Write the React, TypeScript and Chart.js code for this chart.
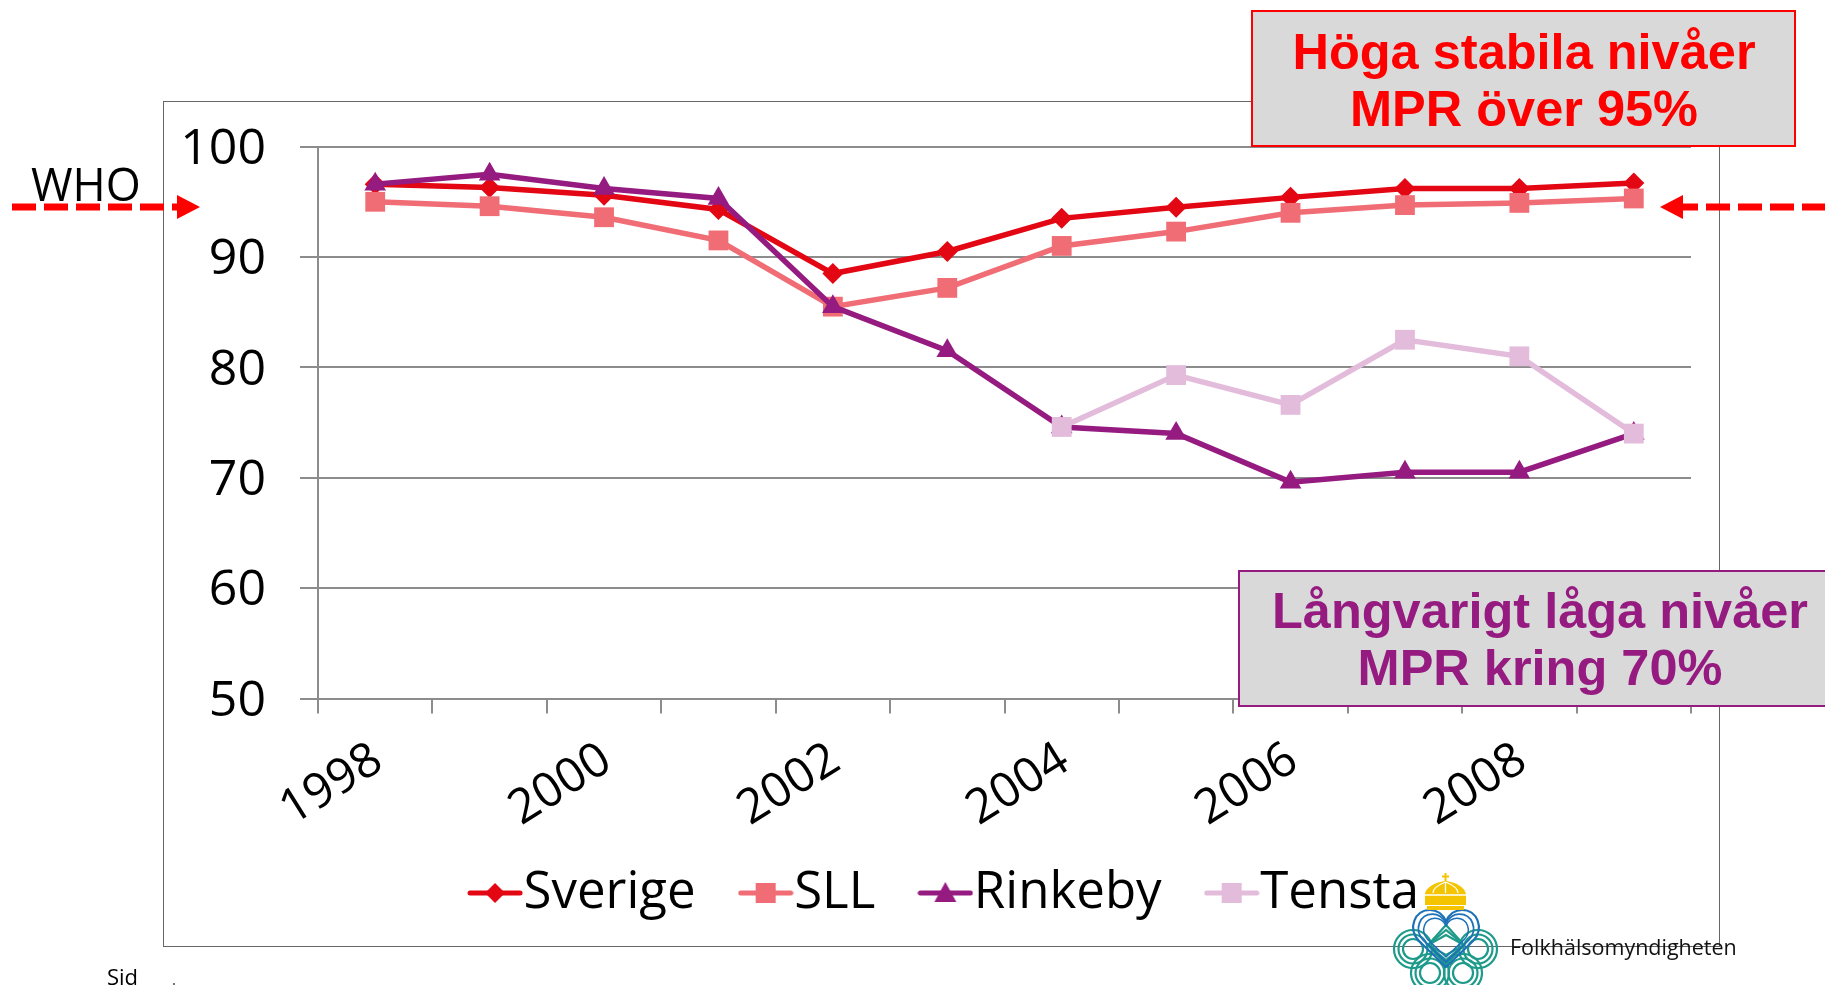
import React, { useEffect, useRef } from "react";
import { Chart, registerables } from "chart.js";
Chart.register(...registerables);

const years = ["1998","1999","2000","2001","2002","2003","2004","2005","2006","2007","2008","2009"];
const yearLabels = ["1998","","2000","","2002","","2004","","2006","","2008",""];
const sverige = [96.6,96.3,95.6,94.3,88.5,90.5,93.5,94.5,95.4,96.2,96.2,96.7];
const sll = [95,94.6,93.6,91.5,85.5,87.2,91,92.3,94,94.7,94.9,95.3];
const rinkeby = [96.6,97.5,96.2,95.3,85.5,81.5,74.6,74,69.6,70.5,70.5,74];
const tensta = [null,null,null,null,null,null,74.6,79.3,76.6,82.5,81,74];
const names = ["Sverige","SLL","Rinkeby","Tensta"];
const colors = ["#E30613","#F06D75","#951B81","#E3BBDB"];
const styles = ["rectRot","rect","triangle","rect"];
const radii = [10.5,14,12.5,14];

const FONT = "'Open Sans', sans-serif";
const GRID = "#8C8C8C";

function legendIcon(color: string, style: string) {
  const c = document.createElement("canvas");
  c.width = 56; c.height = 26;
  const g = c.getContext("2d")!;
  g.strokeStyle = color; g.fillStyle = color; g.lineWidth = 5; g.lineCap = "round";
  g.beginPath(); g.moveTo(3,13); g.lineTo(53,13); g.stroke();
  g.beginPath();
  if (style === "rect") g.rect(18,3,20,20);
  else if (style === "rectRot") { g.moveTo(28,3); g.lineTo(38,13); g.lineTo(28,23); g.lineTo(18,13); g.closePath(); }
  else { g.moveTo(28,2); g.lineTo(39,22); g.lineTo(17,22); g.closePath(); }
  g.fill();
  return c;
}

const legendShift = {
  id: "legendShift",
  afterLayout(chart: any) {
    const l = chart.legend;
    if (l) { l.left += 25; l.right += 25; l.top -= 28; l.bottom -= 28; }
  },
};

export default function App() {
  const ref = useRef<HTMLCanvasElement>(null);
  useEffect(() => {
    const series = [sverige, sll, rinkeby, tensta];
    const chart = new Chart(ref.current!, {
      type: "line",
      plugins: [legendShift],
      data: {
        labels: years,
        datasets: series.map((d, i) => ({
          label: names[i], data: d, borderColor: colors[i], backgroundColor: colors[i],
          borderWidth: 5.5, pointStyle: styles[i] as any, pointRadius: radii[i],
          pointBorderWidth: 0, tension: 0, spanGaps: false, order: 4 - i, clip: false as any,
        })),
      },
      options: {
        animation: false, responsive: false,
        layout: { autoPadding: false, padding: { left: 170, right: 134, top: 146.6, bottom: 28.5 } },
        scales: {
          x: {
            offset: true,
            grid: { offset: true, drawOnChartArea: false, drawTicks: true, tickLength: 15, color: GRID, lineWidth: 2 },
            border: { display: true, color: GRID, width: 2 },
            ticks: {
              autoSkip: false, minRotation: 32, maxRotation: 32, padding: 18, labelOffset: 3, color: "#000",
              font: { family: FONT, size: 48 },
              callback: (_v: any, i: number) => yearLabels[i],
            },
            afterFit: (s: any) => { s.height = 130; },
          },
          y: {
            min: 50, max: 100,
            grid: { color: GRID, lineWidth: 2, tickLength: 18 },
            border: { display: true, color: GRID, width: 2 },
            ticks: { stepSize: 10, padding: 34, labelOffset: 3, color: "#000", font: { family: FONT, size: 50 } },
            afterFit: (s: any) => { s.width = 148; },
          },
        },
        plugins: {
          title: { display: false }, tooltip: { enabled: false },
          legend: {
            display: true, position: "bottom",
            labels: {
              usePointStyle: true, pointStyleWidth: 6, padding: 67, color: "#000",
              font: { family: FONT, size: 51 },
              generateLabels: () => names.map((n, i) => ({
                text: n, fillStyle: colors[i], strokeStyle: colors[i], lineWidth: 0,
                pointStyle: legendIcon(colors[i], styles[i]) as any, datasetIndex: i, hidden: false,
              })),
            },
          },
        },
      },
    });
    return () => chart.destroy();
  }, []);

  const red = "#FF0000"; const purple = "#951B81";
  const boxText: React.CSSProperties = { position: "absolute", fontFamily: "'Liberation Sans', sans-serif", fontWeight: 700, fontSize: 50.5, lineHeight: "57px", textAlign: "center", whiteSpace: "nowrap", transform: "translateX(-50%)" };
  const leftDash = [12,44,76,108,140];
  const rightDash = [1706,1738,1770,1802];
  const teal = "#1D9A8A";
  const heart = "M1446 967 L1419 941 C1407 928 1415 910 1430 910 C1438 910 1443 915 1446 921 C1449 915 1454 910 1462 910 C1477 910 1485 928 1473 941 Z";
  return (
    <div style={{ position: "absolute", left: 0, top: 0, width: 1825, height: 985, overflow: "hidden", background: "#fff" }}>
      <div style={{ position: "absolute", left: 163, top: 101, width: 1557, height: 846, border: "1.5px solid #666", boxSizing: "border-box" }} />
      <canvas ref={ref} width={1825} height={985} style={{ position: "absolute", left: 0, top: 0, display: "block" }} />
      <svg width={1825} height={985} style={{ position: "absolute", left: 0, top: 0 }}>
        {leftDash.map(x => <rect key={x} x={x} y={203.5} width={24} height={7} fill={red} />)}
        <rect x={172} y={203.5} width={6} height={7} fill={red} />
        <polygon points="177,195 200,207 177,219" fill={red} />
        {rightDash.map(x => <rect key={x} x={x} y={203.5} width={24} height={7} fill={red} />)}
        <rect x={1683} y={203.5} width={15} height={7} fill={red} />
        <polygon points="1683,195 1660,207 1683,219" fill={red} />
        {/* logo */}
        <g fill="none" stroke={teal} strokeWidth={2.2}>
          {[[1413,949],[1478,949],[1430,973],[1463,973]].flatMap(([x,y]) => [19,14.5,10].map(r => <circle key={`${x}${r}`} cx={x} cy={y} r={r} />))}
          {[0,5,10].map(o => <path key={o} d={`M1446 ${925+o} L1428 ${945} L1446 ${965-o} L1464 945 Z`} />)}
        </g>
        <g fill="none" stroke="#1C71B8" strokeWidth={2.2} strokeLinejoin="round">
          {[1,0.84,0.68].map(s => <path key={s} d={heart} transform={`translate(1446 936) scale(${s}) translate(-1446 -936)`} />)}
        </g>
        <g fill="#F5C400">
          <path d="M1425 896 C1424 889 1434 882 1445.5 881 C1457 882 1467 889 1466 896 L1466 905 L1425 905 Z" />
          <rect x={1427} y={906} width={37} height={4} />
          <rect x={1444.5} y={873} width={2} height={9} />
          <rect x={1442} y={875.5} width={7} height={2} />
        </g>
        <g stroke="#fff" strokeWidth={1.3} fill="none"><path d="M1433 893 C1433 889 1438 885 1445.5 882 C1453 885 1458 889 1458 893 M1445.5 882 V893 M1424 895 H1467" /></g>
      </svg>
      <div style={{ position: "absolute", left: 1510, top: 929, fontFamily: FONT, fontSize: 21.5, lineHeight: "36px", color: "#111", whiteSpace: "nowrap" }}>Folkhälsomyndigheten</div>
      <div style={{ position: "absolute", left: 31, top: 152, fontFamily: FONT, fontSize: 45, lineHeight: "64px", color: "#000" }}>WHO</div>
      <div style={{ position: "absolute", left: 107, top: 961, fontFamily: FONT, fontSize: 22, lineHeight: "30px", color: "#000" }}>Sid</div>
      <div style={{ position: "absolute", left: 173, top: 983, width: 2, height: 2, background: "#777" }} />
      <div style={{ position: "absolute", left: 1251, top: 10, width: 545, height: 137, boxSizing: "border-box", background: "#D9D9D9", border: `2px solid ${red}` }} />
      <div style={{ ...boxText, left: 1524, top: 23, color: red }}>Höga stabila nivåer<br />MPR över 95%</div>
      <div style={{ position: "absolute", left: 1238, top: 570, width: 600, height: 137, boxSizing: "border-box", background: "#D9D9D9", border: `2px solid ${purple}` }} />
      <div style={{ ...boxText, left: 1540, top: 582, color: purple }}>Långvarigt låga nivåer<br />MPR kring 70%</div>
    </div>
  );
}
